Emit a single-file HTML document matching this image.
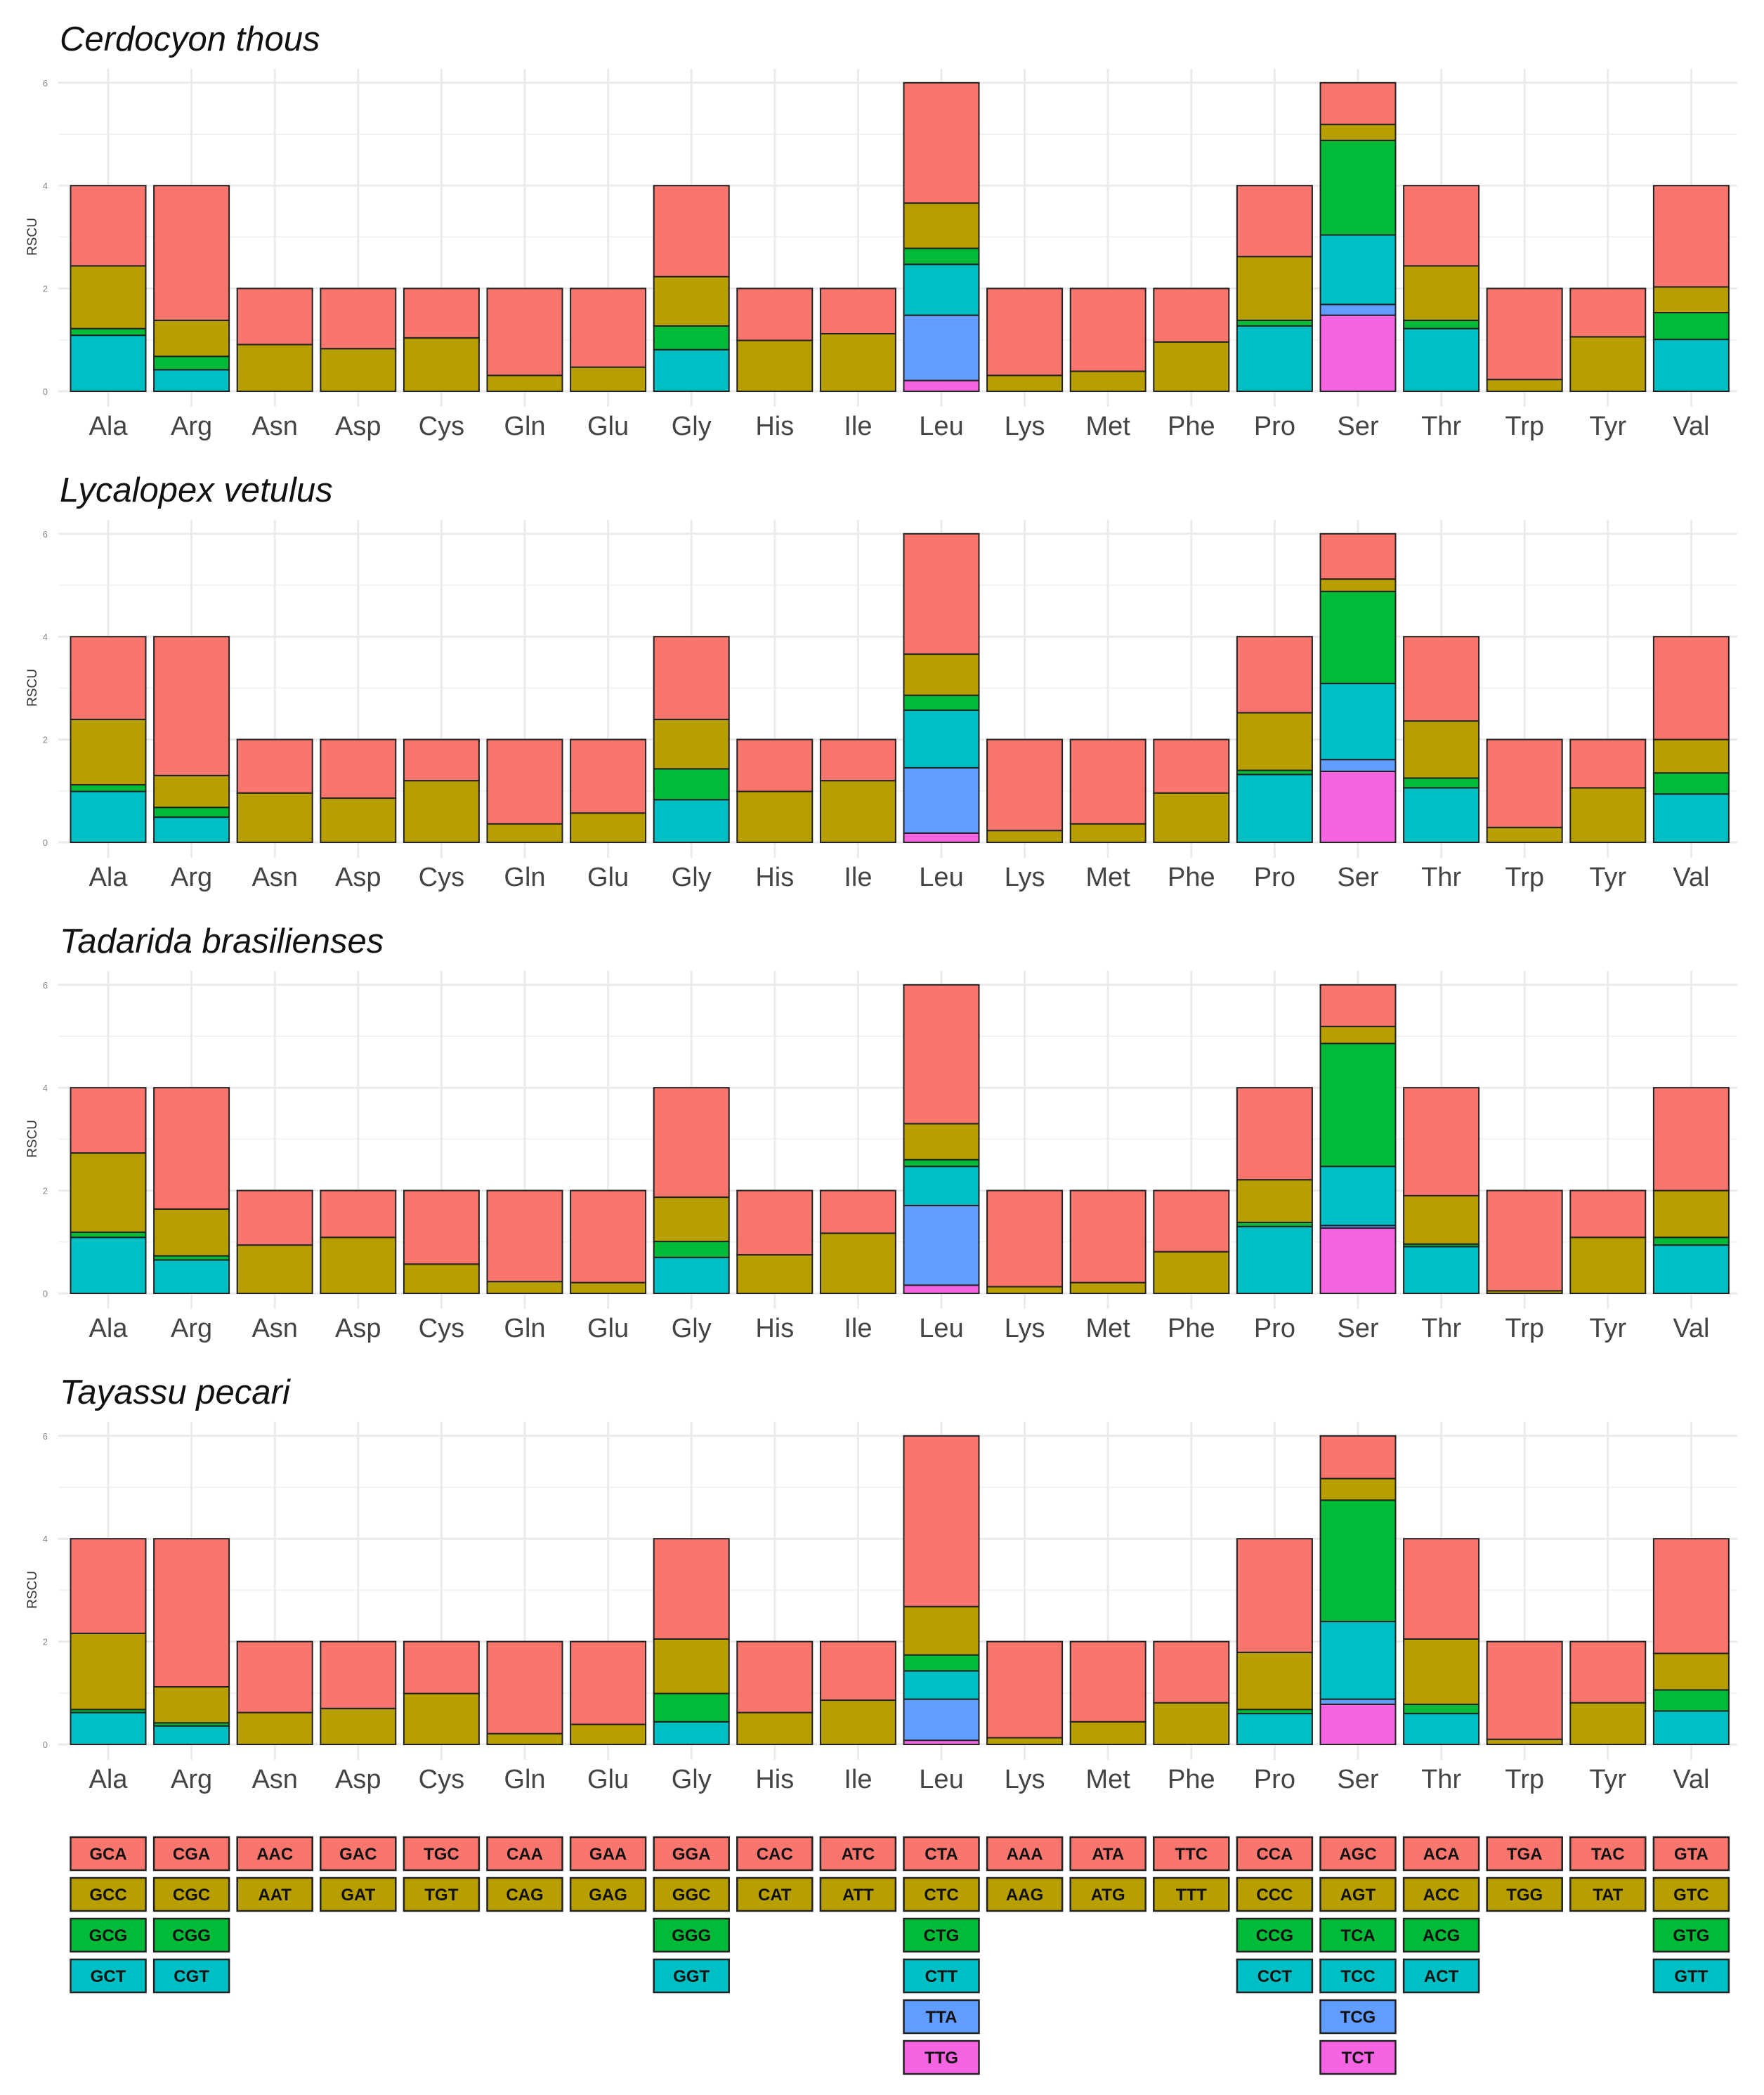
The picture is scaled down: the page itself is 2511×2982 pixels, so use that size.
<!DOCTYPE html>
<html><head><meta charset="utf-8"><style>
html,body{margin:0;padding:0;background:#fff;}
svg{display:block;font-family:"Liberation Sans",sans-serif;}
</style></head><body>
<svg id="chart" width="2511" height="2982" viewBox="0 0 2511 2982" xmlns="http://www.w3.org/2000/svg"></svg>
<script>
const aminoAcids = ["Ala","Arg","Asn","Asp","Cys","Gln","Glu","Gly","His","Ile","Leu","Lys","Met","Phe","Pro","Ser","Thr","Trp","Tyr","Val"];
const codons = [["GCA","GCC","GCG","GCT"],["CGA","CGC","CGG","CGT"],["AAC","AAT"],["GAC","GAT"],["TGC","TGT"],["CAA","CAG"],["GAA","GAG"],["GGA","GGC","GGG","GGT"],["CAC","CAT"],["ATC","ATT"],["CTA","CTC","CTG","CTT","TTA","TTG"],["AAA","AAG"],["ATA","ATG"],["TTC","TTT"],["CCA","CCC","CCG","CCT"],["AGC","AGT","TCA","TCC","TCG","TCT"],["ACA","ACC","ACG","ACT"],["TGA","TGG"],["TAC","TAT"],["GTA","GTC","GTG","GTT"]];
const speciesNames = ["Cerdocyon thous","Lycalopex vetulus","Tadarida brasilienses","Tayassu pecari"];
const yTicks = [0,2,4,6];
const cerdocyon = [[1.56,1.22,0.13,1.09],[2.62,0.70,0.26,0.42],[1.09,0.91],[1.17,0.83],[0.96,1.04],[1.69,0.31],[1.53,0.47],[1.77,0.96,0.46,0.81],[1.01,0.99],[0.88,1.12],[2.34,0.88,0.31,0.99,1.27,0.21],[1.69,0.31],[1.61,0.39],[1.04,0.96],[1.38,1.24,0.11,1.27],[0.81,0.31,1.84,1.35,0.21,1.48],[1.56,1.06,0.16,1.22],[1.77,0.23],[0.94,1.06],[1.97,0.50,0.52,1.01]];
const lycalopex = [[1.61,1.27,0.13,0.99],[2.70,0.62,0.19,0.49],[1.04,0.96],[1.14,0.86],[0.80,1.20],[1.64,0.36],[1.43,0.57],[1.61,0.96,0.60,0.83],[1.01,0.99],[0.80,1.20],[2.34,0.80,0.29,1.12,1.27,0.18],[1.77,0.23],[1.64,0.36],[1.04,0.96],[1.48,1.12,0.08,1.32],[0.88,0.24,1.79,1.48,0.23,1.38],[1.64,1.11,0.19,1.06],[1.71,0.29],[0.94,1.06],[2.00,0.65,0.41,0.94]];
const tadarida = [[1.27,1.54,0.10,1.09],[2.36,0.91,0.08,0.65],[1.06,0.94],[0.91,1.09],[1.43,0.57],[1.77,0.23],[1.79,0.21],[2.13,0.86,0.31,0.70],[1.25,0.75],[0.83,1.17],[2.70,0.70,0.13,0.76,1.55,0.16],[1.87,0.13],[1.79,0.21],[1.19,0.81],[1.79,0.83,0.08,1.30],[0.81,0.33,2.39,1.15,0.05,1.27],[2.10,0.94,0.05,0.91],[1.95,0.05],[0.91,1.09],[2.00,0.91,0.15,0.94]];
const tayassu = [[1.84,1.48,0.06,0.62],[2.88,0.70,0.06,0.36],[1.38,0.62],[1.30,0.70],[1.01,0.99],[1.79,0.21],[1.61,0.39],[1.95,1.06,0.55,0.44],[1.38,0.62],[1.14,0.86],[3.32,0.94,0.31,0.55,0.80,0.08],[1.87,0.13],[1.56,0.44],[1.19,0.81],[2.21,1.11,0.08,0.60],[0.83,0.42,2.36,1.51,0.10,0.78],[1.95,1.27,0.18,0.60],[1.90,0.10],[1.19,0.81],[2.23,0.71,0.41,0.65]];
const speciesData = [cerdocyon, lycalopex, tadarida, tayassu];

const colors = ["#F8766D","#B79F00","#00BA38","#00BFC4","#619CFF","#F564E3"];
const NS = "http://www.w3.org/2000/svg";
const svg = document.getElementById("chart");
function el(tag, attrs, parent){const e=document.createElementNS(NS,tag);for(const k in attrs)e.setAttribute(k,attrs[k]);(parent||svg).appendChild(e);return e;}
const x0 = 154, step = 118.6, barW = 107, unit = 73.2, gridL = 83, gridR = 2473;
const xScale = i => x0 + i*step;

speciesData.forEach((data, p) => {
  const base = 557 + 642*p;
  const yScale = v => base - v*unit;
  const g = el("g", {});
  
  
  for (let v=0; v<=6; v++) {
    const ln = el("line",{x1:gridL,x2:gridR,y1:yScale(v),y2:yScale(v),stroke:v%2?"#f3f3f3":"#ebebeb","stroke-width":v%2?2:3},g);
    
    
  }
  aminoAcids.forEach((a,i)=>{
    const ln = el("line",{x1:xScale(i),x2:xScale(i),y1:yScale(6)-20,y2:base+22,stroke:"#ebebeb","stroke-width":3},g);
    
    
  });
  yTicks.forEach(t=>{
    const tx = el("text",{x:68,y:yScale(t)+5,"font-size":13,fill:"#888","text-anchor":"end"},g);
    tx.textContent = t;
    
    
  });
  const yl = el("text",{x:0,y:0,"font-size":19,fill:"#333","text-anchor":"middle",transform:`translate(52,${base-220}) rotate(-90)`},g);
  yl.textContent = "RSCU";
  
  
  const tt = el("text",{x:85,y:base-485,"font-size":49,"font-style":"italic",fill:"#111"},g);
  tt.textContent = speciesNames[p];
  
  
  data.forEach((vals,i)=>{
    let cum = 0;
    for (let k=vals.length-1; k>=0; k--) {
      const r = el("rect",{x:xScale(i)-barW/2,y:yScale(cum+vals[k]),width:barW,height:vals[k]*unit,fill:colors[k],stroke:"#222","stroke-width":2},g);
      
      
      cum += vals[k];
    }
    const xl = el("text",{x:xScale(i),y:base+62,"font-size":38,fill:"#444","text-anchor":"middle"},g);
    xl.textContent = aminoAcids[i];
    
    
  });
});

const lg = el("g",{});


codons.forEach((list,i)=>{
  list.forEach((c,k)=>{
    const top = 2615 + 58*k;
    const r = el("rect",{x:xScale(i)-barW/2,y:top,width:barW,height:47,fill:colors[k],stroke:"#222","stroke-width":2.5},lg);
    
    
    const t = el("text",{x:xScale(i),y:top+32,"font-size":24,"font-weight":"bold",fill:"#111","text-anchor":"middle"},lg);
    t.textContent = c;
    
    
  });
});
</script>
</body></html>
